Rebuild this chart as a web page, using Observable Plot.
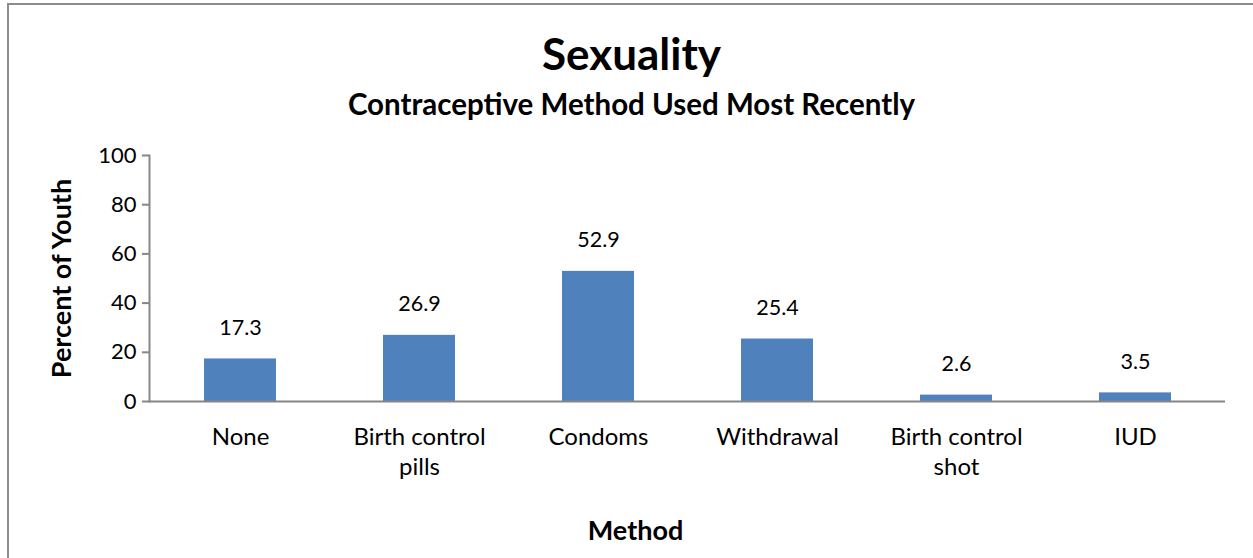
<!DOCTYPE html>
<html><head><meta charset="utf-8">
<script src="https://cdn.jsdelivr.net/npm/d3@7"></script>
<script src="https://cdn.jsdelivr.net/npm/@observablehq/plot@0.6"></script>
<style>
body{margin:0;background:#fff;font-family:Lato,"Open Sans",sans-serif;}
#wrap{position:relative;width:1253px;height:558px;overflow:hidden;}
#border{position:absolute;left:7px;top:3px;width:1300px;height:600px;border:2px solid #8c8c8c;box-sizing:border-box;}
.t{position:absolute;left:0;width:1253px;text-align:center;font-weight:bold;color:#000;line-height:1.2;}
#title{top:27px;font-size:44px;left:5px;}
#sub{top:86px;font-size:29.5px;left:5px;}
#chart{position:absolute;left:0;top:0;}
</style></head>
<body>
<div id="wrap">
<div id="border"></div>
<div id="title" class="t">Sexuality</div>
<div id="sub" class="t">Contraceptive Method Used Most Recently</div>
<div id="chart"></div>
</div>
<script>
const categories = ["None", "Birth control\npills", "Condoms", "Withdrawal", "Birth control\nshot", "IUD"];
const values = [17.3, 26.9, 52.9, 25.4, 2.6, 3.5];
const yTicks = [0, 20, 40, 60, 80, 100];

const data = categories.map((c, i) => ({method: c, value: values[i]}));

const plot = Plot.plot({
  width: 1253,
  height: 558,
  marginTop: 155,
  marginBottom: 157,
  marginLeft: 149,
  marginRight: 28,
  style: {fontFamily: "Lato, 'Open Sans', sans-serif", fontSize: "20px", color: "#000", background: "transparent"},
  x: {domain: categories, paddingInner: 0.6, paddingOuter: 0.3, label: null},
  y: {domain: [0, 100], label: null},
  marks: [
    Plot.barY(data, {x: "method", y: "value", fill: "#4F81BD"}),
    Plot.text(data, {x: "method", y: "value", text: d => d.value.toFixed(1), dy: -31, fontSize: 21.5, fill: "#000"}),
    Plot.ruleY([0], {stroke: "#868686", strokeWidth: 2}),
    Plot.frame({anchor: "left", stroke: "#868686", strokeWidth: 2}),
    Plot.axisY({ticks: yTicks, tickSize: 7, tickPadding: 6, stroke: "#868686", strokeWidth: 2, fontSize: 22, label: null}),
    Plot.axisX({tickSize: 0, tickPadding: 22, fontSize: 24, lineHeight: 1.25, label: null}),
    Plot.text(["Percent of Youth"], {frameAnchor: "left", textAnchor: "middle", lineAnchor: "middle", dx: -87, rotate: -90, fontWeight: "bold", fontSize: 27}),
    Plot.text(["Method"], {frameAnchor: "bottom", textAnchor: "middle", dx: -52, dy: 138, fontWeight: "bold", fontSize: 27})
  ]
});
document.getElementById("chart").appendChild(plot);
</script>
</body></html>
